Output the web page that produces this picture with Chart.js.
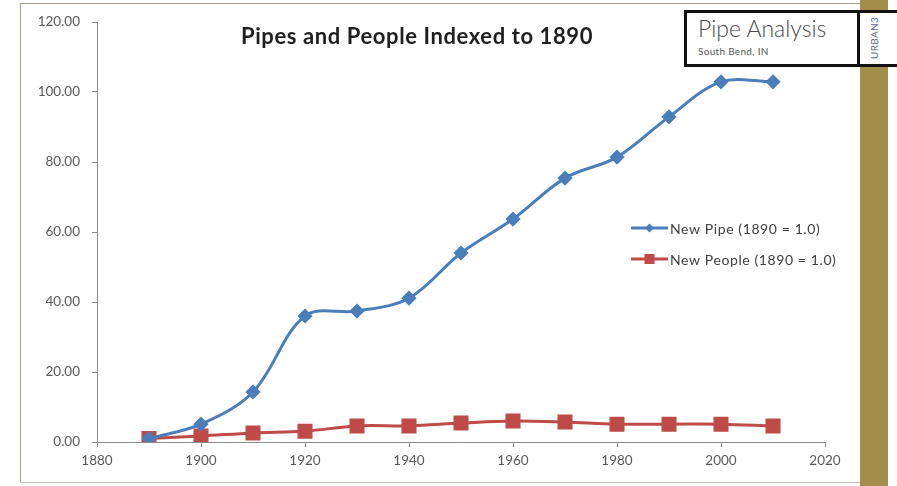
<!DOCTYPE html>
<html>
<head>
<meta charset="utf-8">
<script src="https://cdn.jsdelivr.net/npm/chart.js@4/dist/chart.umd.min.js"></script>
<style>
  html, body { margin: 0; padding: 0; background: #ffffff; }
  #wrap { position: relative; width: 897px; height: 486px; overflow: hidden; background: #ffffff; }
  #c { position: absolute; left: 0; top: 0; }
  .frame-left { position: absolute; left: 20px; top: 3px; width: 1px; height: 480px; background: #aaa58a; }
  .frame-top { position: absolute; left: 20px; top: 3px; width: 840px; height: 1px; background: #aaa58a; }
  .frame-bottom { position: absolute; left: 20px; top: 482px; width: 840px; height: 1px; background: #c9c5b2; }
  .gold { position: absolute; left: 860px; top: 0; width: 28px; height: 486px; background: #a28d4a; }
  .brand { position: absolute; left: 684px; top: 10px; width: 220px; height: 51px; border: 3px solid #111; background: #fff; }
  .brand-div { position: absolute; left: 857px; top: 10px; width: 3px; height: 57px; background: #111; }
  .brand-side { position: absolute; left: 860px; top: 13px; width: 28px; height: 51px; background: #fff; }
  .brand-title { position: absolute; left: 698px; top: 14px; font-family: Lato, sans-serif; font-weight: 300; font-size: 23px; color: #4a4a4a; white-space: nowrap; }
  .brand-sub { position: absolute; left: 698px; top: 45px; font-family: Lato, sans-serif; font-size: 10px; color: #555; white-space: nowrap; letter-spacing: 0.3px; }
  .brand-tag { position: absolute; left: 874px; top: 38px; transform: translate(-50%, -50%) rotate(-90deg); font-family: Lato, sans-serif; font-size: 10px; color: #5a6a8a; white-space: nowrap; letter-spacing: 0.3px; }
  .title { position: absolute; left: 417px; top: 22px; transform: translateX(-50%); font-family: Lato, sans-serif; font-weight: 700; font-size: 22px; letter-spacing: 0.6px; color: #1f1f1f; white-space: nowrap; }
</style>
</head>
<body>
<div id="wrap">
  <canvas id="c" width="897" height="486"></canvas>
  <div class="frame-left"></div>
  <div class="frame-top"></div>
  <div class="frame-bottom"></div>
  <div class="gold"></div>
  <div class="brand"></div>
  <div class="brand-side"></div>
  <div class="brand-div"></div>
  <div class="brand-title">Pipe Analysis</div>
  <div class="brand-sub">South Bend, IN</div>
  <div class="brand-tag">URBAN3</div>
  <div class="title">Pipes and People Indexed to 1890</div>
</div>
<script>
// Decennial index values, 1890 = 1.0
const years = [1890, 1900, 1910, 1920, 1930, 1940, 1950, 1960, 1970, 1980, 1990, 2000, 2010];
const newPipe = [1.0, 5.1, 14.3, 36.0, 37.4, 41.1, 54.0, 63.7, 75.4, 81.4, 92.9, 102.9, 102.9];
const newPeople = [1.0, 1.7, 2.6, 3.1, 4.6, 4.6, 5.4, 6.0, 5.7, 5.1, 5.1, 5.1, 4.6];
const seriesLabels = ['New Pipe (1890 = 1.0)', 'New People (1890 = 1.0)'];
const xTickValues = [1880, 1900, 1920, 1940, 1960, 1980, 2000, 2020];
const yTickValues = [0, 20, 40, 60, 80, 100, 120];

const BLUE = '#4a7ebb';
const RED = '#be4b48';
const AXIS = '#8c8c8c';
const TICK_TEXT = '#595959';

const toPoints = (vals) => vals.map((v, i) => ({ x: years[i], y: v }));

// Legend drawn inside the plot, Excel style: line sample with marker, then label
const insetLegend = {
  id: 'insetLegend',
  afterDatasetsDraw(chart) {
    const ctx = chart.ctx;
    const x0 = 631, x1 = 668, rows = [228, 259];
    chart.data.datasets.forEach((ds, i) => {
      const y = rows[i];
      ctx.save();
      ctx.strokeStyle = ds.borderColor;
      ctx.lineWidth = 3;
      ctx.beginPath();
      ctx.moveTo(x0, y);
      ctx.lineTo(x1, y);
      ctx.stroke();
      ctx.fillStyle = ds.pointBackgroundColor;
      const mx = (x0 + x1) / 2;
      if (ds.pointStyle === 'rectRot') {
        const r = 4.5;
        ctx.beginPath();
        ctx.moveTo(mx, y - r); ctx.lineTo(mx + r, y); ctx.lineTo(mx, y + r); ctx.lineTo(mx - r, y);
        ctx.closePath(); ctx.fill();
      } else {
        ctx.fillRect(mx - 5, y - 5, 10, 10);
      }
      ctx.fillStyle = '#404040';
      ctx.font = '14px Lato, sans-serif';
      ctx.letterSpacing = '0.6px';
      ctx.textBaseline = 'middle';
      ctx.textAlign = 'left';
      ctx.fillText(ds.label, x1 + 2, y + 1);
      ctx.restore();
    });
  }
};

new Chart(document.getElementById('c'), {
  type: 'line',
  data: {
    datasets: [
      {
        label: seriesLabels[0],
        data: toPoints(newPipe),
        borderColor: BLUE,
        backgroundColor: BLUE,
        pointBackgroundColor: BLUE,
        pointBorderColor: BLUE,
        pointStyle: 'rectRot',
        pointRadius: 5.5,
        borderWidth: 3,
        tension: 0.35,
        fill: false
      },
      {
        label: seriesLabels[1],
        data: toPoints(newPeople),
        borderColor: RED,
        backgroundColor: RED,
        pointBackgroundColor: RED,
        pointBorderColor: RED,
        pointStyle: 'rect',
        pointRadius: 8.5,
        borderWidth: 3,
        tension: 0.35,
        fill: false
      }
    ]
  },
  options: {
    responsive: false,
    animation: false,
    devicePixelRatio: 1,
    layout: { padding: { left: 0, top: 22, right: 72, bottom: 0 } },
    plugins: {
      legend: { display: false },
      title: { display: false },
      tooltip: { enabled: false }
    },
    scales: {
      x: {
        type: 'linear',
        min: xTickValues[0],
        max: xTickValues[xTickValues.length - 1],
        afterBuildTicks(scale) { scale.ticks = xTickValues.map(v => ({ value: v })); },
        afterFit(scale) { scale.height = 44; },
        ticks: {
          color: TICK_TEXT,
          font: { family: 'Lato, sans-serif', size: 13.5 },
          padding: 6,
          maxRotation: 0,
          callback: (v) => String(v)
        },
        grid: { drawOnChartArea: false, drawTicks: true, tickLength: 5, color: AXIS },
        border: { color: AXIS, width: 1 }
      },
      y: {
        min: yTickValues[0],
        max: yTickValues[yTickValues.length - 1],
        afterBuildTicks(scale) { scale.ticks = yTickValues.map(v => ({ value: v })); },
        afterFit(scale) { scale.width = 97; },
        ticks: {
          color: TICK_TEXT,
          font: { family: 'Lato, sans-serif', size: 13.5 },
          padding: 12,
          callback: (v) => Number(v).toFixed(2)
        },
        grid: { drawOnChartArea: false, drawTicks: true, tickLength: 5, color: AXIS },
        border: { color: AXIS, width: 1 }
      }
    }
  },
  plugins: [insetLegend]
});
</script>
</body>
</html>
